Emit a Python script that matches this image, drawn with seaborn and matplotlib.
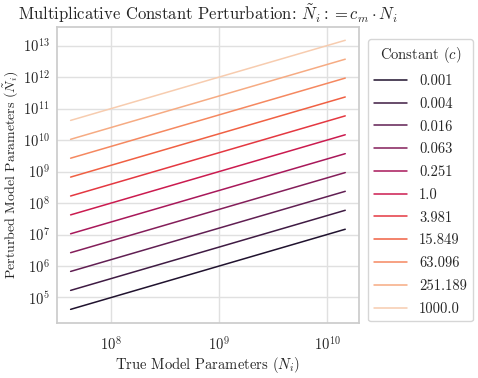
import matplotlib

matplotlib.use("Agg")
import matplotlib.pyplot as plt
import numpy as np
import pandas as pd
import seaborn as sns
from matplotlib.ticker import LogLocator

# True model sizes (x) and the multiplicative constants (one line each)
true_params = [4.2e7, 1.5e8, 1.0e9, 4.0e9, 1.47e10]
constants = [0.001, 0.004, 0.016, 0.063, 0.251, 1.0, 3.981, 15.849, 63.096, 251.189, 1000.0]
const_labels = [str(c) for c in constants]

sns.set_theme(style="whitegrid")
plt.rcParams["font.family"] = "serif"
plt.rcParams["font.serif"] = ["cmr10", "DejaVu Serif"]
plt.rcParams["mathtext.fontset"] = "cm"
plt.rcParams["axes.formatter.use_mathtext"] = True
plt.rcParams["axes.unicode_minus"] = False

rows = []
for c, lab in zip(constants, const_labels):
    for n in true_params:
        rows.append({"N": n, "N_pert": c * n, "c": lab})
df = pd.DataFrame(rows)

fig = plt.figure(figsize=(4.78, 3.78), dpi=100)
ax = fig.add_axes([0.119, 0.146, 0.632, 0.783])

sns.lineplot(
    data=df,
    x="N",
    y="N_pert",
    hue="c",
    hue_order=const_labels,
    palette=sns.color_palette("rocket", len(constants)),
    linewidth=1.1,
    ax=ax,
)

ax.set_xscale("log")
ax.set_yscale("log")
ax.yaxis.set_major_locator(LogLocator(base=10, numticks=20))
ax.xaxis.set_major_locator(LogLocator(base=10, numticks=20))
ax.set_title(r"Multiplicative Constant Perturbation: $\tilde{N}_i := c_m \cdot N_i$",
             fontsize=12, pad=5)
ax.set_xlabel(r"True Model Parameters $(N_i)$", fontsize=10.5, labelpad=1)
ax.set_ylabel(r"Perturbed Model Parameters $(\tilde{N}_i)$", fontsize=10)
ax.yaxis.set_label_coords(-0.118, 0.5)
ax.tick_params(axis="y", labelsize=10.5, pad=-1)
ax.tick_params(axis="x", labelsize=10.5, pad=3)
ax.grid(True, which="major", color="#e0e0e0")

ax.legend(
    title=r"Constant $(c)$",
    loc="center left",
    bbox_to_anchor=(1.03, 0.481),
    borderaxespad=0,
    fontsize=10.5,
    title_fontsize=10.5,
    handlelength=2.3,
    labelspacing=0.62,
)

fig.savefig("out.png", dpi=100)
